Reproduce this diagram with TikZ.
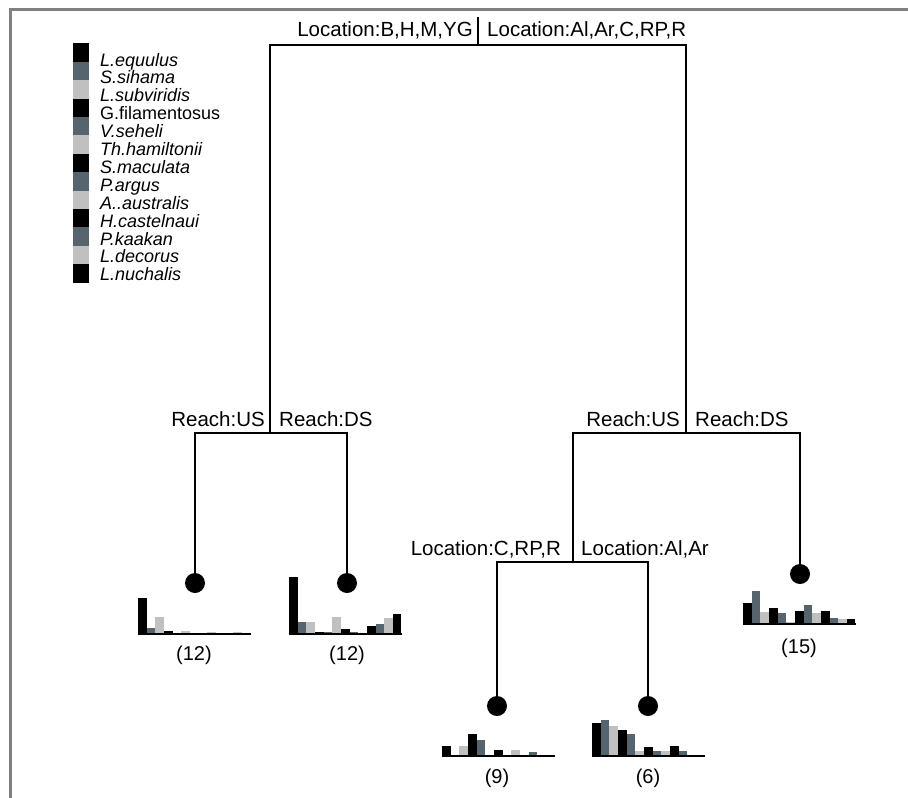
\documentclass[tikz,border=0pt]{standalone}
\usepackage{fontspec}
\setmainfont{Liberation Sans}
\definecolor{cA}{HTML}{000000}
\definecolor{cB}{HTML}{56646E}
\definecolor{cC}{HTML}{C0C0C0}
\definecolor{framegray}{HTML}{808080}
\newcommand\drawbars[3]{%
  \foreach \h [count=\i from 0] in {#3} {%
    \pgfmathtruncatemacro\m{mod(\i,3)}%
    \ifcase\m \def\cc{cA}\or \def\cc{cB}\or \def\cc{cC}\fi
    \fill[\cc] (#1+8.65*\i,#2) rectangle ++(8.65,-\h);
  }
  \draw[line width=2pt] (#1-0.5,#2+1) -- ++(113.5,0);
}
\tikzset{
  lab/.style={font=\fontsize{20.5}{24}\selectfont, inner sep=0pt},
  leg/.style={font=\fontsize{18}{20}\selectfont\itshape, inner sep=0pt, anchor=base west},
  legup/.style={font=\fontsize{18}{20}\selectfont, inner sep=0pt, anchor=base west},
  leafdot/.style={circle, fill=black, minimum size=20pt, inner sep=0pt},
  branch/.style={line width=1.2pt, black},
  count/.style={font=\fontsize{20}{24}\selectfont, inner sep=0pt}
}
\begin{document}
\begin{tikzpicture}[x=1pt,y=-1pt]
\useasboundingbox (0,0) rectangle (908,798);
% frame
\draw[framegray, line width=3pt] (10.5,798) -- (10.5,9.3) -- (908,9.3);
% legend
\foreach \c [count=\i from 0] in {cA,cB,cC,cA,cB,cC,cA,cB,cC,cA,cB,cC,cA}
  \fill[\c] (73,43.3+18.4*\i) rectangle ++(16,18.45);
\node[leg] (n1) at (100,66) {L.equulus};
\node[leg] (n2) at (100,66+17.9) {S.sihama};
\node[leg] (n3) at (100,66+2*17.9) {L.subviridis};
\node[legup] (n4) at (100,66+3*17.9) {G.filamentosus};
\node[leg] (n5) at (100,66+4*17.9) {V.seheli};
\node[leg] (n6) at (100,66+5*17.9) {Th.hamiltonii};
\node[leg] (n7) at (100,66+6*17.9) {S.maculata};
\node[leg] (n8) at (100,66+7*17.9) {P.argus};
\node[leg] (n9) at (100,66+8*17.9) {A..australis};
\node[leg] (n10) at (100,66+9*17.9) {H.castelnaui};
\node[leg] (n11) at (100,66+10*17.9) {P.kaakan};
\node[leg] (n12) at (100,66+11*17.9) {L.decorus};
\node[leg] (n13) at (100,66+12*17.9) {L.nuchalis};
% split points
\coordinate (Rtop) at (478,17);
\coordinate (R) at (478,45);
\coordinate (A) at (270,433);
\coordinate (B) at (686,433);
\coordinate (C) at (573,562);
% leaves
\node[leafdot] (L1) at (195,583) {};
\node[leafdot] (L2) at (347,583) {};
\node[leafdot] (L3) at (497,706) {};
\node[leafdot] (L4) at (648,706) {};
\node[leafdot] (L5) at (800,574) {};
% branches
\draw[line width=2pt] (Rtop) -- (R);
\draw[branch] (R) -| (A);
\draw[branch] (R) -| (B);
\draw[branch] (A) -| (L1);
\draw[branch] (A) -| (L2);
\draw[branch] (B) -| (C);
\draw[branch] (B) -| (L5);
\draw[branch] (C) -| (L3);
\draw[branch] (C) -| (L4);
% split labels
\node[lab, anchor=base east] (t1) at (473,36) {Location:B,H,M,YG};
\node[lab, anchor=base west] (t2) at (487,36) {Location:Al,Ar,C,RP,R};
\node[lab, anchor=base east] (t3) at (265,426) {Reach:US};
\node[lab, anchor=base west] (t4) at (279,426) {Reach:DS};
\node[lab, anchor=base east] (t5) at (680,426) {Reach:US};
\node[lab, anchor=base west] (t6) at (695,426) {Reach:DS};
\node[lab, anchor=base east] (t7) at (561,555) {Location:C,RP,R};
\node[lab, anchor=base west] (t8) at (581,555) {Location:Al,Ar};
% bar charts
\drawbars{138}{633}{35,5,16,2,0,2,0,0,1.5,0,0,1.5,0}
\drawbars{289}{633}{56,11,11,1.5,1.5,16,4,1.5,0,7,9,15,19}
\drawbars{442}{755}{9.5,0,9.5,21,15,0,5,0,5,0,3,0,0}
\drawbars{592}{755}{32,35,29,25,21,4,8,4,4,9,4,0,0}
\drawbars{743}{622.5}{20,32,11,15,10,1,12,18,10,12,5,4,4}
% counts
\node[count] (c1) at (194,655) {(12)};
\node[count] (c2) at (347,655) {(12)};
\node[count] (c3) at (497,778) {(9)};
\node[count] (c4) at (648,778) {(6)};
\node[count] (c5) at (799,648) {(15)};
\end{tikzpicture}
\end{document}
